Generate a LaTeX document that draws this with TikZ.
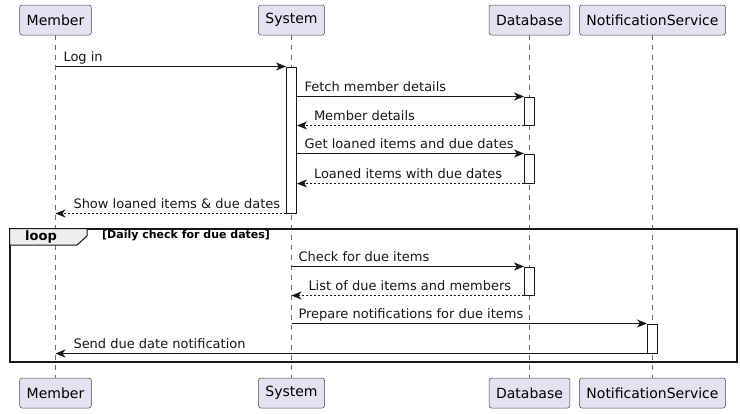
\documentclass[tikz,border=0pt]{standalone}
\usepackage{fontspec}
\setmainfont{DejaVu Sans}
\usetikzlibrary{arrows.meta, positioning}

\definecolor{boxfill}{HTML}{E2E2F0}
\definecolor{ink}{HTML}{181818}
\definecolor{lifeink}{HTML}{6A6A6A}
\definecolor{tabfill}{HTML}{EEEEEE}

\begin{document}
\begin{tikzpicture}[x=1pt, y=-1pt,
        >={Stealth[length=10pt, width=8pt, inset=3pt]},
        participant/.style={rectangle, rounded corners=2.5pt, draw=ink!80, line width=0.5pt, fill=boxfill,
                minimum height=30pt, inner xsep=7pt, font=\fontsize{14}{16}\selectfont},
        life/.style={lifeink, line width=0.5pt, dash pattern=on 5pt off 5pt},
        act/.style={rectangle, draw=ink, line width=1pt, fill=white, minimum width=10pt, inner sep=0pt},
        msg/.style={->, ink, line width=1pt},
        reply/.style={->, ink, line width=1pt, dash pattern=on 2pt off 2pt},
        lbl/.style={anchor=base west, inner sep=0pt, font=\fontsize{13}{15}\selectfont}]

        \useasboundingbox (0,0) rectangle (740,413);

        \node[participant] (member)  at (55.5 ,20) {Member};
        \node[participant] (system)  at (291.5,20) {System};
        \node[participant] (db)      at (529.5,20) {Database};
        \node[participant] (notify)  at (652.5,20) {NotificationService};

        \node[participant] (memberB) at (55.5 ,393) {Member};
        \node[participant] (systemB) at (291.5,393) {System};
        \node[participant] (dbB)     at (529.5,393) {Database};
        \node[participant] (notifyB) at (652.5,393) {NotificationService};

        \draw[life] (member) -- (memberB);
        \draw[life] (system) -- (systemB);
        \draw[life] (db) -- (dbB);
        \draw[life] (notify) -- (notifyB);

        \draw[line width=2pt, ink] (9.5,228.5) rectangle (736.5,361.5);
        \draw[line width=1pt, ink, fill=tabfill] (9.5,228.5) -- (87,228.5) -- (87,236) -- (77,245) -- (9.5,245) -- cycle;
        \node[font=\bfseries\fontsize{13}{15}\selectfont, inner sep=0pt] (looptag) at (41,236.5) {loop};
        \node[anchor=base west, inner sep=0pt, font=\bfseries\fontsize{11}{13}\selectfont] (guard) at (102,238) {[Daily check for due dates]};

        \node[act, minimum height=146pt] (s1) at (291.5,140) {};
        \node[act, minimum height=28pt]  (d1) at (529.5,111) {};
        \node[act, minimum height=29pt]  (d2) at (529.5,168.5) {};
        \node[act, minimum height=28pt]  (d3) at (529.5,281) {};
        \node[act, minimum height=29pt]  (n1) at (652.5,338.5) {};

        \draw[msg] (member |- s1.north) -- (s1.north west)
                node[lbl, at start, xshift=7.5pt, yshift=5pt] {Log in};
        \draw[msg] (s1.east |- d1.north) -- (d1.north west)
                node[lbl, at start, xshift=7pt, yshift=5pt] {Fetch member details};
        \draw[reply] (d1.south west) -- (s1.east |- d1.south)
                node[lbl, at end, xshift=16.5pt, yshift=5pt] {Member details};
        \draw[msg] (s1.east |- d2.north) -- (d2.north west)
                node[lbl, at start, xshift=7pt, yshift=5pt] {Get loaned items and due dates};
        \draw[reply] (d2.south west) -- (s1.east |- d2.south)
                node[lbl, at end, xshift=16.5pt, yshift=5pt] {Loaned items with due dates};
        \draw[reply] (s1.south west) -- (member |- s1.south)
                node[lbl, at end, xshift=17.5pt, yshift=5pt] {Show loaned items \& due dates};

        \draw[msg] (system |- d3.north) -- (d3.north west)
                node[lbl, at start, xshift=6.5pt, yshift=5pt] {Check for due items};
        \draw[reply] (d3.south west) -- (system |- d3.south)
                node[lbl, at end, xshift=16.5pt, yshift=5pt] {List of due items and members};
        \draw[msg] (system |- n1.north) -- (n1.north west)
                node[lbl, at start, xshift=6.5pt, yshift=5pt] {Prepare notifications for due items};
        \draw[msg] (n1.south west) -- (member |- n1.south)
                node[lbl, at end, xshift=17.5pt, yshift=5pt] {Send due date notification};
\end{tikzpicture}
\end{document}
